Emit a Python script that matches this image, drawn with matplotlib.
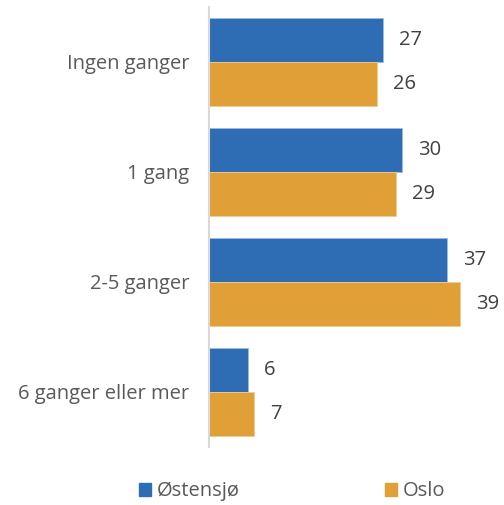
import numpy as np
import matplotlib.pyplot as plt
from matplotlib.patches import Patch

categories = ['Ingen ganger', '1 gang', '2-5 ganger', '6 ganger eller mer']
ostensjo = [27, 30, 37, 6]
oslo = [26, 29, 39, 7]
series_names = ['Østensjø', 'Oslo']

blue = '#2E6DB4'
orange = '#E09F37'

plt.rcParams['font.family'] = ['Open Sans', 'DejaVu Sans']

fig = plt.figure(figsize=(5.04, 5.05), dpi=100)
ax = fig.add_axes([209/504, 1 - 447/505, 290/504, 440/505])

y = np.arange(len(categories))
h = 0.4
ax.barh(y - h/2, ostensjo, height=h, color=blue, edgecolor='#9DBCE0', linewidth=0.6)
ax.barh(y + h/2, oslo, height=h, color=orange, edgecolor='#F0CD90', linewidth=0.6)

for yi, v in zip(y, ostensjo):
    ax.text(v + 2.5, yi - h/2, str(v), va='center', ha='left', fontsize=14.5, color='#404040')
for yi, v in zip(y, oslo):
    ax.text(v + 2.5, yi + h/2, str(v), va='center', ha='left', fontsize=14.5, color='#404040')

ax.set_ylim(3.5, -0.5)
ax.set_xlim(0, 45)
ax.set_yticks(y)
ax.set_yticklabels(categories, fontsize=14.5, color='#595959')
ax.tick_params(axis='y', length=0, pad=14)
ax.set_xticks([])
for s in ['top', 'right', 'bottom']:
    ax.spines[s].set_visible(False)
ax.spines['left'].set_color('#D9D9D9')
ax.spines['left'].set_linewidth(1.5)

handles = [Patch(color=blue), Patch(color=orange)]
fig.legend(handles, series_names, loc='center', bbox_to_anchor=(0.58, 0.027), ncol=2,
           frameon=False, fontsize=14.5, handlelength=0.6, handleheight=0.6,
           handletextpad=0.3, columnspacing=7.2, labelcolor='#595959')

fig.savefig('out.png', dpi=100)
